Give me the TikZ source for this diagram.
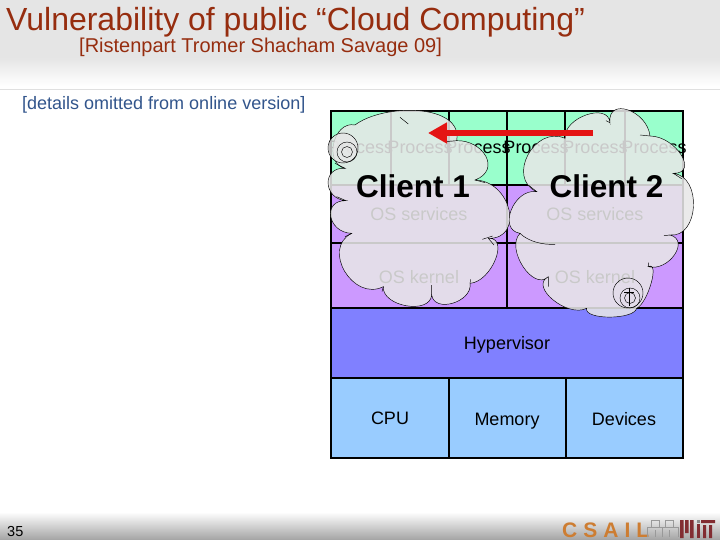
\documentclass[tikz,border=0pt]{standalone}
\usepackage{fontspec}
\setmainfont{Liberation Sans}
\usetikzlibrary{calc,arrows.meta}
\definecolor{titlered}{RGB}{150,45,15}
\definecolor{detailblue}{RGB}{50,85,140}
\definecolor{procgreen}{RGB}{153,255,204}
\definecolor{ospurple}{RGB}{204,153,255}
\definecolor{hypblue}{RGB}{128,128,255}
\definecolor{hwblue}{RGB}{153,204,255}
\definecolor{cloudgrey}{RGB}{231,231,231}
\definecolor{csailorange}{RGB}{205,125,50}
\definecolor{mitred}{RGB}{130,45,50}
\definecolor{arrowred}{RGB}{228,20,20}
\newcommand{\fs}[1]{\fontsize{#1}{#1}\selectfont}
\newcommand{\zp}[2]{({320+#1/3},{100+#2/3})}
\newcommand{\puff}[6]{.. controls ($({320+#1/3},{100+#2/3})+1.333*({320+#3/3},{100+#4/3})-0.667*({320+#1/3},{100+#2/3})-0.667*({320+#5/3},{100+#6/3})$) and ($({320+#5/3},{100+#6/3})+1.333*({320+#3/3},{100+#4/3})-0.667*({320+#1/3},{100+#2/3})-0.667*({320+#5/3},{100+#6/3})$) .. ({320+#5/3},{100+#6/3})}
\tikzset{
 grid/.style={draw=black,line width=1.4pt},
 cloudbody/.style={fill=cloudgrey,fill opacity=.87,draw=black,draw opacity=1,line width=.45pt},
 cloudedge/.style={draw=black,line width=.45pt,fill=none},
 ring/.style={draw=black,line width=.45pt,fill=none},
 boxtext/.style={font=\fs{18},text=black,inner sep=0pt,anchor=base},
 clienttext/.style={font=\fs{31.5}\bfseries,text=black,inner sep=0pt,anchor=base},
}
\begin{document}
\begin{tikzpicture}[x=1pt,y=-1pt]
\useasboundingbox (0,0) rectangle (720,540);
\fill[white] (0,0) rectangle (720,540);
% header and footer bands
\fill[color=black!10] (0,0) rectangle (720,58);
\shade[top color=black!10,bottom color=white] (0,58) rectangle (720,86);
\draw[black!12,line width=.7pt] (0,89) -- (720,89);
\shade[top color=white,bottom color=black!36] (0,512) rectangle (720,540);
% titles
\node[anchor=base west,inner sep=0pt,text=titlered,font=\fs{32}] (title) at (6,30.5) {Vulnerability of public “Cloud Computing”};
\node[anchor=base west,inner sep=0pt,text=titlered,font=\fs{20}] (refs) at (79,53) {[Ristenpart Tromer Shacham Savage 09]};
\node[anchor=base west,inner sep=0pt,text=detailblue,font=\fs{18}] (details) at (22,109.5) {[details omitted from online version]};
\node[anchor=base west,inner sep=0pt,text=black,font=\fs{14.5}] (page) at (7,536) {35};
% stack
\fill[procgreen] (331,111) rectangle (683,185);
\fill[ospurple] (331,185) rectangle (683,308);
\fill[hypblue] (331,308) rectangle (683,378);
\fill[hwblue] (331,378) rectangle (683,458);
\draw[grid] (331,111) rectangle (683,458);
\draw[grid] (331,185) -- (683,185) (331,243) -- (683,243) (331,308) -- (683,308) (331,378) -- (683,378);
\draw[grid] (391,111) -- (391,185) (449,111) -- (449,185) (507,111) -- (507,308) (565,111) -- (565,185) (625,111) -- (625,185);
\draw[grid] (449,378) -- (449,458) (566,378) -- (566,458);
\foreach \i/\x in {1/360.5,2/420,3/478,4/536,5/595,6/654}
  \node[boxtext] (proc\i) at (\x,154) {Process};
\node[boxtext] (svc1) at (419,221) {OS services};
\node[boxtext] (svc2) at (595,221) {OS services};
\node[boxtext] (ker1) at (419,283) {OS kernel};
\node[boxtext] (ker2) at (595,283) {OS kernel};
\node[boxtext] (hyp) at (507,349) {Hypervisor};
\node[boxtext] (cpu) at (390,424) {CPU};
\node[boxtext] (mem) at (507,425) {Memory};
\node[boxtext] (dev) at (624,425) {Devices};
% client 1 cloud
\path[cloudbody] \zp{78}{302}
 \puff{78}{302}{25}{250}{75}{205}
 \puff{75}{205}{42}{130}{105}{75}
 .. controls \zp{190}{10} and \zp{430}{10} .. \zp{410}{122}
 .. controls \zp{490}{120} and \zp{545}{210} .. \zp{465}{240}
 \puff{465}{240}{568}{330}{505}{415}
 \puff{505}{415}{527}{480}{450}{550}
 \puff{450}{550}{400}{610}{335}{585}
 \puff{335}{585}{260}{618}{190}{560}
 \puff{190}{560}{75}{515}{95}{400}
 \puff{95}{400}{33}{350}{78}{302} -- cycle;
\draw[cloudedge] \zp{78}{302} -- \zp{50}{290} \zp{75}{205} -- \zp{45}{190} \zp{240}{52} -- \zp{265}{72} \zp{375}{125} -- \zp{410}{122} \zp{465}{240} -- \zp{495}{248} \zp{487}{418} -- \zp{518}{408} \zp{505}{415} -- \zp{522}{435} \zp{450}{550} -- \zp{452}{538} \zp{335}{585} -- \zp{335}{555} \zp{190}{560} -- \zp{186}{575} \zp{95}{400} -- \zp{75}{410};
% client 2 cloud
\path[cloudbody] \zp{650}{275}
 \puff{650}{275}{625}{165}{735}{115}
 \puff{735}{115}{800}{45}{870}{68}
 \puff{870}{68}{925}{30}{990}{108}
 \puff{990}{108}{1085}{165}{1060}{220}
 \puff{1060}{220}{1122}{320}{1050}{405}
 \puff{1050}{405}{1065}{465}{985}{500}
 \puff{985}{500}{995}{550}{950}{625}
 \puff{950}{625}{870}{652}{800}{625}
 \puff{800}{625}{700}{600}{685}{530}
 \puff{685}{530}{610}{500}{600}{400}
 \puff{600}{400}{575}{330}{650}{275} -- cycle;
\draw[cloudedge] \zp{650}{275} -- \zp{625}{255} \zp{735}{115} -- \zp{735}{80} \zp{870}{68} -- \zp{858}{62} \zp{990}{108} -- \zp{960}{105} \zp{1060}{220} -- \zp{1085}{236} \zp{1050}{405} -- \zp{1032}{407} \zp{985}{500} -- \zp{985}{488} \zp{685}{530} -- \zp{685}{560};
\draw[cloudedge] \zp{600}{400} .. controls \zp{625}{425} and \zp{670}{435} .. \zp{705}{433};
% client labels
\node[clienttext] (client1) at (413,197) {Client 1};
\node[clienttext] (client2) at (606.5,197) {Client 2};
% rings
\fill[cloudgrey,fill opacity=.8] (343,148) circle (15);
\draw[ring] (343,148) circle (15);
\draw[ring] (347,152) circle (10);
\draw[ring] (347,152) circle (5.5);
\draw[ring] (628,293) circle (15);
\draw[ring] (630,298) circle (10);
\draw[ring] (630,298) circle (5.5);
\draw[ring] (629,288) -- (629,306) (624,292.5) -- (634,292.5);
% leak arrow
\coordinate (from) at (593,133);
\coordinate (to) at (428,133);
\draw[-{Triangle[length=19pt,width=20pt]},draw=arrowred,fill=arrowred,line width=6.5pt] (from) -- (to);
% logo
\node[anchor=base west,inner sep=0pt,text=csailorange,font=\fs{21}\bfseries] (csail) at (562,537) {C\kern6pt S\kern6pt A\kern6pt I\kern6pt L};
\begin{scope}[draw=black!40,line width=.5pt]
\draw (647,537) -- (647,527) -- (651,527) -- (651,520) -- (659,520) -- (659,527) -- (662,527) -- (662,537);
\draw (662,537) -- (662,527) -- (665,527) -- (665,520) -- (673,520) -- (673,527) -- (678,527) -- (678,537);
\draw (651,527) -- (659,527) (665,527) -- (673,527) (655,530) -- (655,537) (669,530) -- (669,537);
\end{scope}
\fill[mitred] (680,520) rectangle (683.5,538) (685,520) rectangle (688.5,533) (690,520) rectangle (693.5,538);
\fill[mitred] (697,524) rectangle (700,538);
\fill[black!45] (697,520) rectangle (700,523);
\fill[mitred] (701,520) rectangle (715,523) (703,525) rectangle (706,538) (709,525) rectangle (712,538);
\end{tikzpicture}
\end{document}
